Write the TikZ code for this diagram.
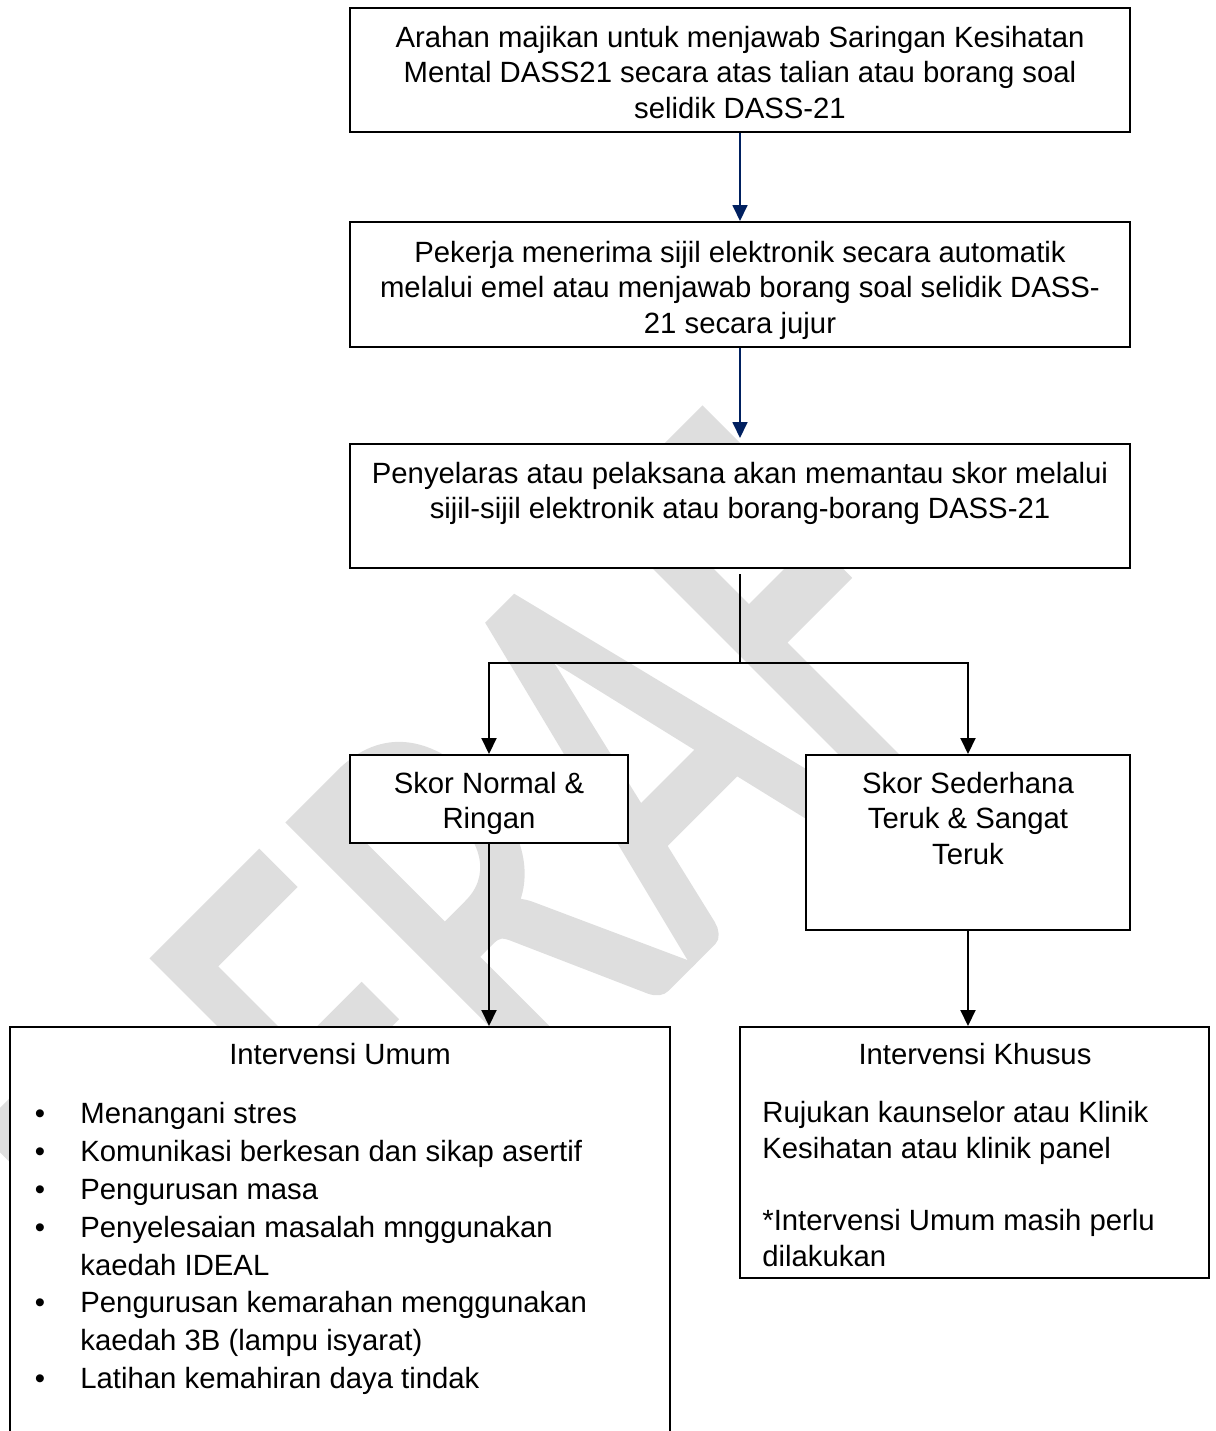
\documentclass[tikz,border=0pt]{standalone}
\usepackage{fontspec}
\setmainfont{Liberation Sans}
\newfontfamily\wmfont[FakeBold=2]{Carlito}
\usetikzlibrary{arrows.meta}
\definecolor{navyline}{RGB}{0,32,96}
\definecolor{wmgray}{RGB}{222,222,222}

\begin{document}
\begin{tikzpicture}[x=0.5pt,y=-0.5pt,
  box/.style={draw=black, line width=1pt, fill=white, inner sep=0pt},
  body/.style={inner sep=0pt, font=\fontsize{14.65}{17.75}\selectfont},
  listtext/.style={inner sep=0pt, align=left, anchor=north west, font=\fontsize{14.65}{18.95}\selectfont},
  link/.style={draw=black, line width=1pt, -{Triangle[length=8pt,width=7.5pt]}},
  navylink/.style={draw=navyline, line width=0.9pt, -{Triangle[length=8pt,width=7.5pt]}},
  watermark/.style={inner sep=0pt, text=wmgray, font=\wmfont\fontsize{196.5}{200}\selectfont}]

\useasboundingbox (0,0) rectangle (1216,1431);

% diagonal watermark behind the flow chart
\node[watermark, rotate=45, anchor=base west] (wmark) at (233,1418) {\scalebox{1}[1.5]{DERAF}};

% boxes
\node[box, minimum width=390pt, minimum height=62pt]   (b1) at (740,70) {};
\node[box, minimum width=390pt, minimum height=62.5pt] (b2) at (740,284.5) {};
\node[box, minimum width=390pt, minimum height=62pt]   (b3) at (740,506) {};
\node[box, minimum width=139pt, minimum height=44pt]   (b4) at (489,799) {};
\node[box, minimum width=162pt, minimum height=87.5pt] (b5) at (968,842.5) {};
\node[box, minimum width=330pt, minimum height=209pt]  (b6) at (340,1236) {};
\node[box, minimum width=234.5pt, minimum height=125.5pt] (b7) at (974.5,1152.5) {};

% box texts
\node[body, align=center, anchor=north] (t1) at (740,22) {\strut Arahan majikan untuk menjawab Saringan Kesihatan\\Mental DASS21 secara atas talian atau borang soal\\selidik DASS-21};
\node[body, align=center, anchor=north] (t2) at (740,237) {\strut Pekerja menerima sijil elektronik secara automatik\\melalui emel atau menjawab borang soal selidik DASS-\\21 secara jujur};
\node[body, align=center, anchor=north] (t3) at (740,458) {\strut Penyelaras atau pelaksana akan memantau skor melalui\\sijil-sijil elektronik atau borang-borang DASS-21};
\node[body, align=center, anchor=north] (t4) at (489,768) {\strut Skor Normal \&\\Ringan};
\node[body, align=center, anchor=north] (t5) at (968,768) {\strut Skor Sederhana\\Teruk \& Sangat\\Teruk};

\node[body, anchor=base] (t6) at (340,1064) {Intervensi Umum};
\node[listtext, align=center, anchor=north] (bul) at (40,1096.5) {\strut\textbullet\\\textbullet\\\textbullet\\\textbullet\\\mbox{}\\\textbullet\\\mbox{}\\\textbullet};
\node[listtext] (items) at (80,1096.5) {\strut Menangani stres\\Komunikasi berkesan dan sikap asertif\\Pengurusan masa\\Penyelesaian masalah mnggunakan\\kaedah IDEAL\\Pengurusan kemarahan menggunakan\\kaedah 3B (lampu isyarat)\\Latihan kemahiran daya tindak};

\node[body, anchor=base] (t7) at (975,1064) {Intervensi Khusus};
\node[body, align=left, anchor=north west, font=\fontsize{14.65}{18}\selectfont] (t8) at (762,1097) {\strut Rujukan kaunselor atau Klinik\\Kesihatan atau klinik panel\\[18pt]*Intervensi Umum masih perlu\\dilakukan};

% connectors
\draw[navylink] (b1.south) -- (b2.north);
\draw[navylink] (b2.south) -- ([yshift=2.5pt]b3.north);
\coordinate (split) at (740,663);
\draw[line width=1pt] ([yshift=-2.5pt]b3.south) -- (split);
\draw[link] (split) -| (b4.north);
\draw[link] (split) -| (b5.north);
\draw[link] (b4.south) -- (b4.south |- b6.north);
\draw[link] (b5.south) -- (b5.south |- b7.north);
\end{tikzpicture}
\end{document}
